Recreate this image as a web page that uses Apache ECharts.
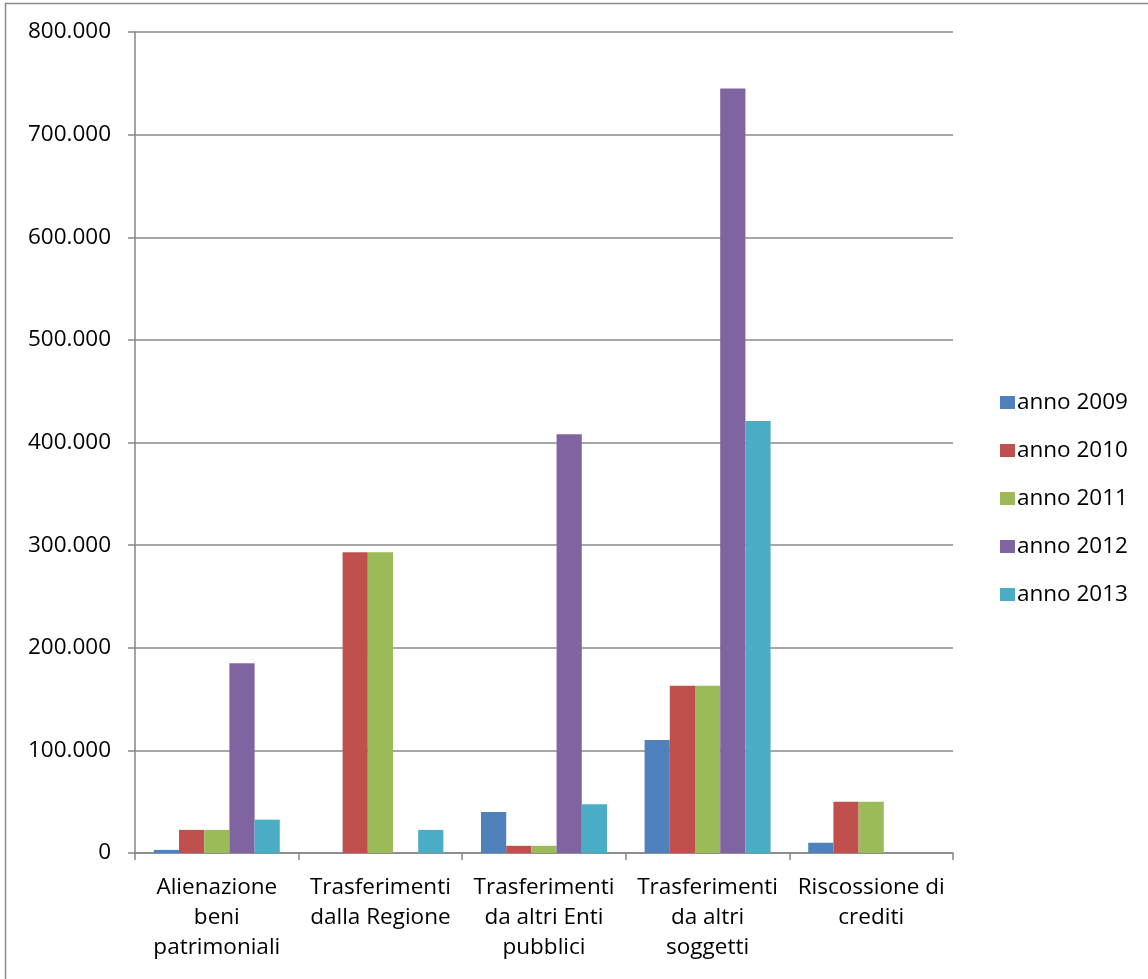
<!DOCTYPE html>
<html>
<head>
<meta charset="utf-8">
<script src="https://cdn.jsdelivr.net/npm/echarts@6/dist/echarts.min.js"></script>
<style>
html,body{margin:0;padding:0;background:#fff;}
#chart{width:1148px;height:979px;}
</style>
</head>
<body>
<div id="chart"></div>
<script>
const categories = [
  "Alienazione\nbeni\npatrimoniali",
  "Trasferimenti\ndalla Regione",
  "Trasferimenti\nda altri Enti\npubblici",
  "Trasferimenti\nda altri\nsoggetti",
  "Riscossione di\ncrediti"
];
const seriesNames = ["anno 2009", "anno 2010", "anno 2011", "anno 2012", "anno 2013"];
const anno2009 = [3000, 0, 40000, 110000, 10000];
const anno2010 = [22500, 293000, 7000, 163000, 50000];
const anno2011 = [22500, 293000, 7000, 163000, 50000];
const anno2012 = [185000, 0, 408000, 745000, 0];
const anno2013 = [32500, 22500, 47500, 421000, 0];
const colors = ["#4F81BD", "#C0504D", "#9BBB59", "#8064A2", "#4BACC6"];
const yMin = 0, yMax = 800000, yInterval = 100000;

const allData = [anno2009, anno2010, anno2011, anno2012, anno2013];
const font = "'Open Sans', 'Liberation Sans', sans-serif";
const fs = 22.5;

function fmt(v){
  if (v === 0) return "0";
  return String(v).replace(/\B(?=(\d{3})+(?!\d))/g, ".");
}

const chart = echarts.init(document.getElementById('chart'), null, {renderer:'canvas'});
chart.setOption({
  animation: false,
  color: colors,
  graphic: [{
    type: 'polyline',
    shape: { points: [[5.5, 1000], [5.5, 3.5], [1200, 3.5]] },
    style: { stroke: '#8a8a8a', lineWidth: 1.5, fill: null },
    silent: true
  }],
  legend: {
    orient: 'vertical',
    left: 995,
    top: 386,
    itemWidth: 15,
    itemHeight: 13,
    itemGap: 25,
    icon: 'rect',
    data: seriesNames,
    textStyle: { fontFamily: font, fontSize: fs, color: '#000', lineHeight: 23, padding: [0,0,0,-3] }
  },
  grid: { left: 135, right: 195, top: 32, bottom: 126, containLabel: false },
  xAxis: {
    type: 'category',
    data: categories,
    axisLine: { lineStyle: { color: '#868686', width: 1.5 } },
    axisTick: { show: true, length: 7, lineStyle: { color: '#868686', width: 1.5 } },
    axisLabel: { fontFamily: font, fontSize: fs, color: '#000', lineHeight: 30, margin: 20, interval: 0 }
  },
  yAxis: {
    type: 'value',
    min: yMin, max: yMax, interval: yInterval,
    axisLine: { show: true, lineStyle: { color: '#868686', width: 1.5 } },
    axisTick: { show: true, length: 7, lineStyle: { color: '#868686', width: 1.5 } },
    splitLine: { lineStyle: { color: '#8a8a8a', width: 1.5 } },
    axisLabel: { fontFamily: font, fontSize: fs, color: '#000', margin: 24, formatter: fmt }
  },
  series: seriesNames.map((n, i) => ({
    name: n,
    type: 'bar',
    data: allData[i],
    barGap: '0%',
    barCategoryGap: '23%',
    itemStyle: { color: colors[i] }
  }))
});
</script>
</body>
</html>
